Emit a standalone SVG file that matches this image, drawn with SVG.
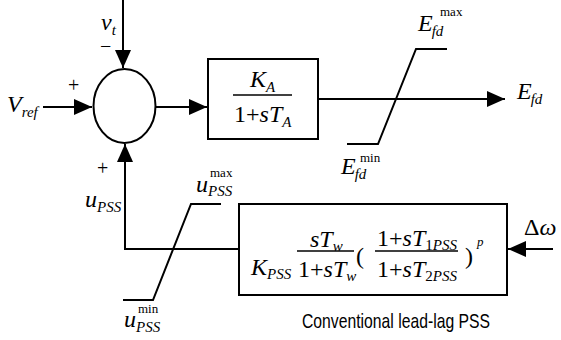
<svg xmlns="http://www.w3.org/2000/svg" width="561" height="340" viewBox="0 0 561 340">
<style>
.ln{fill:none;stroke:#000;stroke-width:2}
.fl{fill:none;stroke:#000;stroke-width:1.3}
</style>
<defs>
<marker id="ah" markerWidth="18" markerHeight="16" refX="18" refY="8" orient="auto" markerUnits="userSpaceOnUse">
<path d="M0,0 L18,8 L0,16 Z" fill="#000"/>
</marker>
</defs>
<g id="connectors">
<path class="ln" d="M123,0 V68" marker-end="url(#ah)"/>
<path class="ln" d="M43,107 H92" marker-end="url(#ah)"/>
<path class="ln" d="M156,107 H207" marker-end="url(#ah)"/>
<path class="ln" d="M318,99 H505" marker-end="url(#ah)"/>
<path class="ln" d="M239,249 H125 V144" marker-end="url(#ah)"/>
<path class="ln" d="M553,249 H508" marker-end="url(#ah)"/>
</g>
<g font-family="Liberation Serif, Times New Roman, serif" font-style="italic" font-size="24" fill="#000">
<g id="sum">
<ellipse class="ln" cx="124.5" cy="106" rx="31" ry="37"/>
<text x="68" y="92" font-style="normal" font-size="20">+</text>
<text x="100" y="53" font-style="normal" font-size="20">−</text>
<text x="97" y="175" font-style="normal" font-size="20">+</text>
</g>
<g id="vt"><text x="101" y="30">v<tspan font-size="15" dy="5">t</tspan></text></g>
<g id="vref"><text x="7" y="112">V<tspan font-size="15" dy="5">ref</tspan></text></g>
<g id="exciter">
<rect class="ln" x="208" y="59" width="110" height="80"/>
<text x="250" y="87">K<tspan font-size="15" dy="5">A</tspan></text>
<path class="fl" d="M233,95 H292"/>
<text x="234" y="122"><tspan font-style="normal">1+</tspan>sT<tspan font-size="15" dy="5">A</tspan></text>
</g>
<g id="efd-limiter">
<path class="ln" d="M347,144 H378 L416,49 H447"/>
<text x="418" y="31">E<tspan font-size="15" dy="5" dx="-1">fd</tspan></text>
<text x="440" y="16" font-size="13" font-style="normal">max</text>
<text x="341" y="174">E<tspan font-size="15" dy="5" dx="-1">fd</tspan></text>
<text x="360" y="162" font-size="13" font-style="normal">min</text>
</g>
<g id="efd"><text x="517" y="99">E<tspan font-size="15" dy="5" dx="-1">fd</tspan></text></g>
<g id="pss-limiter">
<path class="ln" d="M123,300 H153 L191,204 H221"/>
<text x="196" y="192">u<tspan font-size="15" dy="4">PSS</tspan></text>
<text x="210" y="177" font-size="13" font-style="normal">max</text>
<text x="124" y="327">u<tspan font-size="15" dy="5">PSS</tspan></text>
<text x="138" y="313" font-size="13" font-style="normal">min</text>
</g>
<g id="upss"><text x="85" y="207">u<tspan font-size="15" dy="5">PSS</tspan></text></g>
<g id="pss">
<rect class="ln" x="239" y="204" width="268" height="91"/>
<text x="251" y="275">K<tspan font-size="15" dy="4">PSS</tspan></text>
<text x="310" y="247">sT<tspan font-size="15" dy="4">w</tspan></text>
<path class="fl" d="M297,251 H354"/>
<text x="298" y="277"><tspan font-style="normal">1+</tspan>sT<tspan font-size="15" dy="4">w</tspan></text>
<text x="356" y="264" font-style="normal">(</text>
<text x="377" y="246"><tspan font-style="normal">1+</tspan>sT<tspan font-size="15" dy="4" font-style="normal">1</tspan><tspan font-size="15">PSS</tspan></text>
<path class="fl" d="M375,251 H458"/>
<text x="377" y="277"><tspan font-style="normal">1+</tspan>sT<tspan font-size="15" dy="4" font-style="normal">2</tspan><tspan font-size="15">PSS</tspan></text>
<text x="465" y="264" font-style="normal">)</text>
<text x="477" y="246" font-size="13">p</text>
<text x="302" y="328" font-family="Liberation Sans, Arial, sans-serif" font-style="normal" font-size="21" textLength="188" lengthAdjust="spacingAndGlyphs">Conventional lead-lag PSS</text>
</g>
<g id="dw"><text x="524" y="235"><tspan font-style="normal">Δ</tspan>ω</text></g>
</g>
</svg>
